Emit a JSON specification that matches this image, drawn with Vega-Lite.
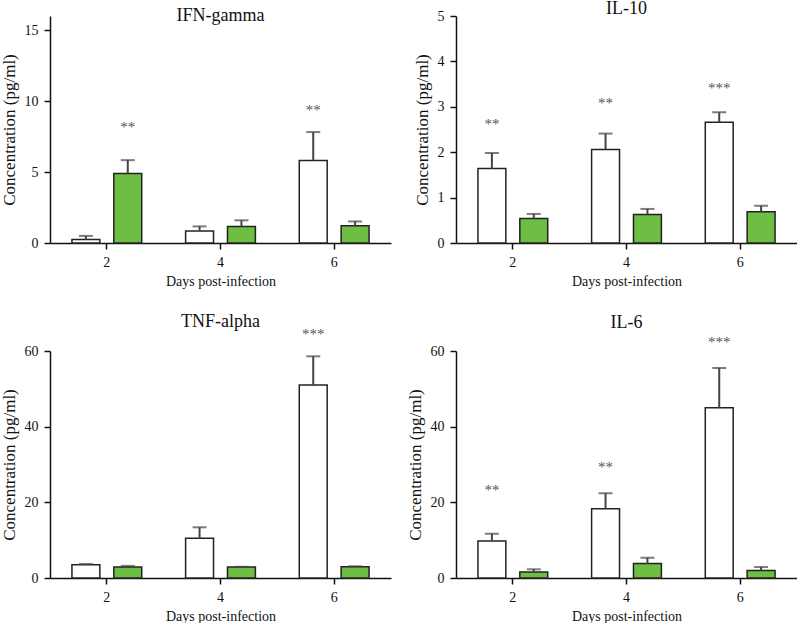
{
  "$schema": "https://vega.github.io/schema/vega-lite/v6.json",
  "background": "white",
  "padding": {"left": 0, "top": 0, "right": 0, "bottom": 0},
  "bounds": "flush",
  "columns": 2,
  "spacing": {"column": 65, "row": 108},
  "datasets": {
    "bars": [
      {"cytokine": "IFN-gamma", "day": 2, "group": "Group 1", "mean": 0.25, "upper": 0.5},
      {"cytokine": "IFN-gamma", "day": 2, "group": "Group 2", "mean": 4.9, "upper": 5.84},
      {"cytokine": "IFN-gamma", "day": 4, "group": "Group 1", "mean": 0.84, "upper": 1.17},
      {"cytokine": "IFN-gamma", "day": 4, "group": "Group 2", "mean": 1.17, "upper": 1.6},
      {"cytokine": "IFN-gamma", "day": 6, "group": "Group 1", "mean": 5.82, "upper": 7.82},
      {"cytokine": "IFN-gamma", "day": 6, "group": "Group 2", "mean": 1.21, "upper": 1.52},
      {"cytokine": "IL-10", "day": 2, "group": "Group 1", "mean": 1.64, "upper": 1.98},
      {"cytokine": "IL-10", "day": 2, "group": "Group 2", "mean": 0.54, "upper": 0.64},
      {"cytokine": "IL-10", "day": 4, "group": "Group 1", "mean": 2.06, "upper": 2.41},
      {"cytokine": "IL-10", "day": 4, "group": "Group 2", "mean": 0.63, "upper": 0.75},
      {"cytokine": "IL-10", "day": 6, "group": "Group 1", "mean": 2.66, "upper": 2.88},
      {"cytokine": "IL-10", "day": 6, "group": "Group 2", "mean": 0.69, "upper": 0.82},
      {"cytokine": "TNF-alpha", "day": 2, "group": "Group 1", "mean": 3.5, "upper": 3.7},
      {"cytokine": "TNF-alpha", "day": 2, "group": "Group 2", "mean": 2.9, "upper": 3.2},
      {"cytokine": "TNF-alpha", "day": 4, "group": "Group 1", "mean": 10.5, "upper": 13.4},
      {"cytokine": "TNF-alpha", "day": 4, "group": "Group 2", "mean": 2.9, "upper": 2.95},
      {"cytokine": "TNF-alpha", "day": 6, "group": "Group 1", "mean": 51.0, "upper": 58.6},
      {"cytokine": "TNF-alpha", "day": 6, "group": "Group 2", "mean": 3.0, "upper": 3.1},
      {"cytokine": "IL-6", "day": 2, "group": "Group 1", "mean": 9.8, "upper": 11.7},
      {"cytokine": "IL-6", "day": 2, "group": "Group 2", "mean": 1.6, "upper": 2.3},
      {"cytokine": "IL-6", "day": 4, "group": "Group 1", "mean": 18.3, "upper": 22.4},
      {"cytokine": "IL-6", "day": 4, "group": "Group 2", "mean": 3.8, "upper": 5.35},
      {"cytokine": "IL-6", "day": 6, "group": "Group 1", "mean": 45.0, "upper": 55.5},
      {"cytokine": "IL-6", "day": 6, "group": "Group 2", "mean": 2.0, "upper": 2.9}
    ],
    "stars": [
      {"cytokine": "IFN-gamma", "day": 2, "group": "Group 2", "sig": "**", "at": 7.73},
      {"cytokine": "IFN-gamma", "day": 6, "group": "Group 1", "sig": "**", "at": 8.92},
      {"cytokine": "IL-10", "day": 2, "group": "Group 1", "sig": "**", "at": 2.48},
      {"cytokine": "IL-10", "day": 4, "group": "Group 1", "sig": "**", "at": 2.96},
      {"cytokine": "IL-10", "day": 6, "group": "Group 1", "sig": "***", "at": 3.29},
      {"cytokine": "TNF-alpha", "day": 6, "group": "Group 1", "sig": "***", "at": 62.8},
      {"cytokine": "IL-6", "day": 2, "group": "Group 1", "sig": "**", "at": 21.8},
      {"cytokine": "IL-6", "day": 4, "group": "Group 1", "sig": "**", "at": 27.7},
      {"cytokine": "IL-6", "day": 6, "group": "Group 1", "sig": "***", "at": 60.8}
    ]
  },
  "concat": [
    {
      "title": {"text": "IFN-gamma", "offset": -9, "font": "Liberation Serif"},
      "width": 341, "height": 227,
      "layer": [
        {
          "data": {"name": "bars"},
          "transform": [{"filter": "datum.cytokine === 'IFN-gamma'"}],
          "mark": {"type": "bar", "stroke": "#222", "strokeWidth": 1.5},
          "encoding": {
            "x": {"field": "day", "type": "ordinal", "title": "Days post-infection", "scale": {"paddingInner": 0.386, "paddingOuter": 0.193}},
            "xOffset": {"field": "group", "scale": {"paddingInner": 0.3333, "paddingOuter": 0}},
            "y": {"field": "mean", "type": "quantitative", "title": "Concentration (pg/ml)", "scale": {"domain": [0, 15]}, "axis": {"values": [0, 5, 10, 15]}},
            "fill": {"field": "group", "scale": {"domain": ["Group 1", "Group 2"], "range": ["#ffffff", "#6fbe44"]}, "legend": null}
          }
        },
        {
          "data": {"name": "bars"},
          "transform": [{"filter": "datum.cytokine === 'IFN-gamma'"}],
          "mark": {"type": "rule", "color": "#444", "strokeWidth": 2},
          "encoding": {
            "x": {"field": "day", "type": "ordinal"},
            "xOffset": {"field": "group"},
            "y": {"field": "mean", "type": "quantitative"},
            "y2": {"field": "upper"}
          }
        },
        {
          "data": {"name": "bars"},
          "transform": [{"filter": "datum.cytokine === 'IFN-gamma'"}],
          "mark": {"type": "tick", "color": "#444", "thickness": 2, "size": 14, "orient": "horizontal"},
          "encoding": {
            "x": {"field": "day", "type": "ordinal"},
            "xOffset": {"field": "group"},
            "y": {"field": "upper", "type": "quantitative"}
          }
        },
        {
          "data": {"name": "stars"},
          "transform": [{"filter": "datum.cytokine === 'IFN-gamma'"}],
          "mark": {"type": "text", "color": "#555", "fontSize": 15, "font": "Liberation Serif", "baseline": "middle", "dy": -6},
          "encoding": {
            "x": {"field": "day", "type": "ordinal"},
            "xOffset": {"field": "group"},
            "y": {"field": "at", "type": "quantitative"},
            "text": {"field": "sig"}
          }
        }
      ]
    },
    {
      "title": {"text": "IL-10", "offset": -9, "font": "Liberation Serif"},
      "width": 341, "height": 227,
      "layer": [
        {
          "data": {"name": "bars"},
          "transform": [{"filter": "datum.cytokine === 'IL-10'"}],
          "mark": {"type": "bar", "stroke": "#222", "strokeWidth": 1.5},
          "encoding": {
            "x": {"field": "day", "type": "ordinal", "title": "Days post-infection", "scale": {"paddingInner": 0.386, "paddingOuter": 0.193}},
            "xOffset": {"field": "group", "scale": {"paddingInner": 0.3333, "paddingOuter": 0}},
            "y": {"field": "mean", "type": "quantitative", "title": "Concentration (pg/ml)", "scale": {"domain": [0, 5]}, "axis": {"values": [0, 1, 2, 3, 4, 5]}},
            "fill": {"field": "group", "scale": {"domain": ["Group 1", "Group 2"], "range": ["#ffffff", "#6fbe44"]}, "legend": null}
          }
        },
        {
          "data": {"name": "bars"},
          "transform": [{"filter": "datum.cytokine === 'IL-10'"}],
          "mark": {"type": "rule", "color": "#444", "strokeWidth": 2},
          "encoding": {
            "x": {"field": "day", "type": "ordinal"},
            "xOffset": {"field": "group"},
            "y": {"field": "mean", "type": "quantitative"},
            "y2": {"field": "upper"}
          }
        },
        {
          "data": {"name": "bars"},
          "transform": [{"filter": "datum.cytokine === 'IL-10'"}],
          "mark": {"type": "tick", "color": "#444", "thickness": 2, "size": 14, "orient": "horizontal"},
          "encoding": {
            "x": {"field": "day", "type": "ordinal"},
            "xOffset": {"field": "group"},
            "y": {"field": "upper", "type": "quantitative"}
          }
        },
        {
          "data": {"name": "stars"},
          "transform": [{"filter": "datum.cytokine === 'IL-10'"}],
          "mark": {"type": "text", "color": "#555", "fontSize": 15, "font": "Liberation Serif", "baseline": "middle", "dy": -6},
          "encoding": {
            "x": {"field": "day", "type": "ordinal"},
            "xOffset": {"field": "group"},
            "y": {"field": "at", "type": "quantitative"},
            "text": {"field": "sig"}
          }
        }
      ]
    },
    {
      "title": {"text": "TNF-alpha", "offset": -4, "font": "Liberation Serif"},
      "width": 341, "height": 227,
      "layer": [
        {
          "data": {"name": "bars"},
          "transform": [{"filter": "datum.cytokine === 'TNF-alpha'"}],
          "mark": {"type": "bar", "stroke": "#222", "strokeWidth": 1.5},
          "encoding": {
            "x": {"field": "day", "type": "ordinal", "title": "Days post-infection", "scale": {"paddingInner": 0.386, "paddingOuter": 0.193}},
            "xOffset": {"field": "group", "scale": {"paddingInner": 0.3333, "paddingOuter": 0}},
            "y": {"field": "mean", "type": "quantitative", "title": "Concentration (pg/ml)", "scale": {"domain": [0, 60]}, "axis": {"values": [0, 20, 40, 60]}},
            "fill": {"field": "group", "scale": {"domain": ["Group 1", "Group 2"], "range": ["#ffffff", "#6fbe44"]}, "legend": null}
          }
        },
        {
          "data": {"name": "bars"},
          "transform": [{"filter": "datum.cytokine === 'TNF-alpha'"}],
          "mark": {"type": "rule", "color": "#444", "strokeWidth": 2},
          "encoding": {
            "x": {"field": "day", "type": "ordinal"},
            "xOffset": {"field": "group"},
            "y": {"field": "mean", "type": "quantitative"},
            "y2": {"field": "upper"}
          }
        },
        {
          "data": {"name": "bars"},
          "transform": [{"filter": "datum.cytokine === 'TNF-alpha'"}],
          "mark": {"type": "tick", "color": "#444", "thickness": 2, "size": 14, "orient": "horizontal"},
          "encoding": {
            "x": {"field": "day", "type": "ordinal"},
            "xOffset": {"field": "group"},
            "y": {"field": "upper", "type": "quantitative"}
          }
        },
        {
          "data": {"name": "stars"},
          "transform": [{"filter": "datum.cytokine === 'TNF-alpha'"}],
          "mark": {"type": "text", "color": "#555", "fontSize": 15, "font": "Liberation Serif", "baseline": "middle", "dy": -6},
          "encoding": {
            "x": {"field": "day", "type": "ordinal"},
            "xOffset": {"field": "group"},
            "y": {"field": "at", "type": "quantitative"},
            "text": {"field": "sig"}
          }
        }
      ]
    },
    {
      "title": {"text": "IL-6", "offset": 3, "font": "Liberation Serif"},
      "width": 341, "height": 227,
      "layer": [
        {
          "data": {"name": "bars"},
          "transform": [{"filter": "datum.cytokine === 'IL-6'"}],
          "mark": {"type": "bar", "stroke": "#222", "strokeWidth": 1.5},
          "encoding": {
            "x": {"field": "day", "type": "ordinal", "title": "Days post-infection", "scale": {"paddingInner": 0.386, "paddingOuter": 0.193}},
            "xOffset": {"field": "group", "scale": {"paddingInner": 0.3333, "paddingOuter": 0}},
            "y": {"field": "mean", "type": "quantitative", "title": "Concentration (pg/ml)", "scale": {"domain": [0, 60]}, "axis": {"values": [0, 20, 40, 60]}},
            "fill": {"field": "group", "scale": {"domain": ["Group 1", "Group 2"], "range": ["#ffffff", "#6fbe44"]}, "legend": null}
          }
        },
        {
          "data": {"name": "bars"},
          "transform": [{"filter": "datum.cytokine === 'IL-6'"}],
          "mark": {"type": "rule", "color": "#444", "strokeWidth": 2},
          "encoding": {
            "x": {"field": "day", "type": "ordinal"},
            "xOffset": {"field": "group"},
            "y": {"field": "mean", "type": "quantitative"},
            "y2": {"field": "upper"}
          }
        },
        {
          "data": {"name": "bars"},
          "transform": [{"filter": "datum.cytokine === 'IL-6'"}],
          "mark": {"type": "tick", "color": "#444", "thickness": 2, "size": 14, "orient": "horizontal"},
          "encoding": {
            "x": {"field": "day", "type": "ordinal"},
            "xOffset": {"field": "group"},
            "y": {"field": "upper", "type": "quantitative"}
          }
        },
        {
          "data": {"name": "stars"},
          "transform": [{"filter": "datum.cytokine === 'IL-6'"}],
          "mark": {"type": "text", "color": "#555", "fontSize": 15, "font": "Liberation Serif", "baseline": "middle", "dy": -6},
          "encoding": {
            "x": {"field": "day", "type": "ordinal"},
            "xOffset": {"field": "group"},
            "y": {"field": "at", "type": "quantitative"},
            "text": {"field": "sig"}
          }
        }
      ]
    }
  ],
  "config": {
    "font": "Liberation Serif",
    "view": {"stroke": null},
    "style": {
      "guide-label": {"font": "Liberation Serif"},
      "guide-title": {"font": "Liberation Serif"},
      "group-title": {"font": "Liberation Serif"}
    },
    "axis": {
      "grid": false,
      "domainColor": "#111",
      "domainWidth": 1.5,
      "tickColor": "#111",
      "tickWidth": 1.5,
      "tickSize": 6,
      "labelColor": "#111",
      "titleColor": "#111",
      "labelFont": "Liberation Serif",
      "titleFont": "Liberation Serif",
      "labelFontSize": 14,
      "titleFontWeight": "normal",
      "labelPadding": 6
    },
    "axisX": {"labelAngle": 0, "titleFontSize": 14, "titlePadding": 5},
    "axisY": {"titleFontSize": 17, "titlePadding": 6},
    "title": {"font": "Liberation Serif", "fontSize": 18, "fontWeight": "normal", "color": "#111", "frame": "group", "anchor": "middle"}
  }
}
